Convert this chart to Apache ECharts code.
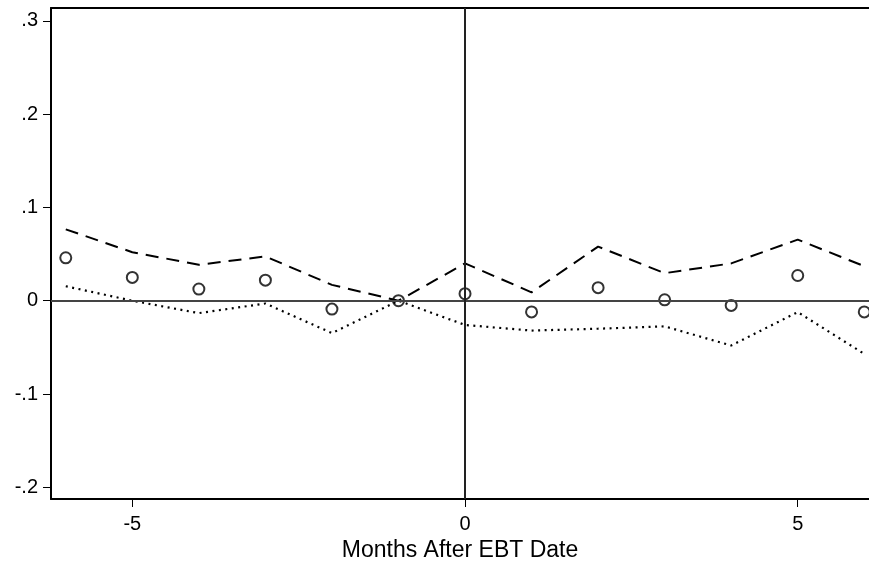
<!DOCTYPE html>
<html>
<head>
<meta charset="utf-8">
<script src="https://cdn.jsdelivr.net/npm/echarts@6/dist/echarts.min.js"></script>
<style>html,body{margin:0;padding:0;background:#fff}#c{width:869px;height:570px}</style>
</head>
<body>
<div id="c"></div>
<script>
const months = [-6, -5, -4, -3, -2, -1, 0, 1, 2, 3, 4, 5, 6];
const coef  = [0.046, 0.025, 0.0125, 0.022, -0.009, 0, 0.0075, -0.012, 0.014, 0.001, -0.005, 0.027, -0.012];
const upper = [0.0765, 0.052, 0.0385, 0.0475, 0.017, 0, 0.040, 0.009, 0.058, 0.0295, 0.040, 0.0655, 0.037];
const lower = [0.0155, 0, -0.0133, -0.003, -0.0347, 0, -0.026, -0.032, -0.030, -0.0275, -0.048, -0.0122, -0.057];
const xTicks = [-5, 0, 5];
const yTicks = [-0.2, -0.1, 0, 0.1, 0.2, 0.3];
const xTitle = 'Months After EBT Date';

function fmtY(v) {
  if (Math.abs(v) < 1e-9) return '0';
  let s = (Math.round(v * 10) / 10).toString();
  return s.replace('0.', '.');
}
const pairs = arr => months.map((m, i) => [m, arr[i]]);
const font = 'Liberation Sans, Arial, Helvetica, sans-serif';

const chart = echarts.init(document.getElementById('c'));
chart.setOption({
  animation: false,
  backgroundColor: '#fff',
  grid: { left: 51, right: 0, top: 8, bottom: 71 },
  xAxis: [{
    type: 'value', min: -6.222, max: 6.071, position: 'bottom',
    splitLine: { show: false },
    axisLine: { show: true, onZero: false, lineStyle: { color: '#000', width: 2 } },
    axisTick: { show: true, customValues: xTicks, length: 8, lineStyle: { color: '#000', width: 1 } },
    axisLabel: { customValues: xTicks, margin: 15, color: '#000', fontSize: 20, fontFamily: font, formatter: v => String(v) },
    name: xTitle, nameLocation: 'middle', nameGap: 40,
    nameTextStyle: { color: '#000', fontSize: 23, fontFamily: font }
  }, {
    type: 'value', min: -6.222, max: 6.071, position: 'top',
    splitLine: { show: false },
    axisLine: { show: true, onZero: false, lineStyle: { color: '#000', width: 2 } },
    axisTick: { show: false }, axisLabel: { show: false }
  }],
  yAxis: {
    type: 'value', min: -0.2125, max: 0.3137,
    splitLine: { show: false },
    axisLine: { show: true, onZero: false, lineStyle: { color: '#000', width: 2 } },
    axisTick: { show: true, customValues: yTicks, length: 8, lineStyle: { color: '#000', width: 1 } },
    axisLabel: { customValues: yTicks, margin: 13, color: '#000', fontSize: 20, fontFamily: font, formatter: fmtY }
  },
  series: [
    {
      type: 'line', data: pairs(upper), showSymbol: false, symbol: 'none',
      lineStyle: { color: '#000', width: 2, type: [13, 8] },
      z: 3,
      markLine: {
        silent: true, symbol: 'none', label: { show: false },
        data: [
          { yAxis: 0, lineStyle: { color: '#444', width: 2, type: 'solid' } },
          { xAxis: 0, lineStyle: { color: '#222', width: 2, type: 'solid' } }
        ]
      }
    },
    {
      type: 'line', data: pairs(lower), showSymbol: false, symbol: 'none',
      lineStyle: { color: '#000', width: 2.2, type: [2, 4.5] },
      z: 3
    },
    {
      type: 'scatter', data: pairs(coef), symbol: 'circle', symbolSize: 11,
      itemStyle: { color: 'rgba(255,255,255,0)', borderColor: '#000', borderWidth: 2 },
      z: 4
    }
  ]
});
</script>
</body>
</html>
